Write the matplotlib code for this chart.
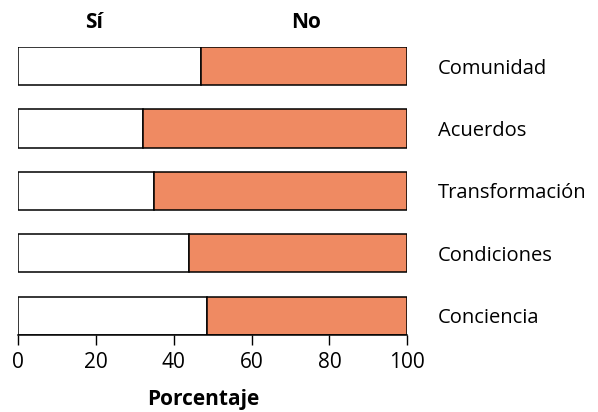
import matplotlib
matplotlib.use("Agg")
import matplotlib.pyplot as plt

plt.rcParams["font.family"] = ["Open Sans", "DejaVu Sans"]

categorias = ["Conciencia", "Condiciones", "Transformación", "Acuerdos", "Comunidad"]
si = [48.5, 44, 35, 32, 47]
no = [100 - v for v in si]
series = ["Sí", "No"]
series_x = [19.5, 74]
color_no = "#ef8a62"

fig = plt.figure(figsize=(5.98, 4.12), dpi=100)
ax = fig.add_axes([0.030, 0.187, 0.651, 0.699])

pos = list(range(len(categorias)))
h = 0.61
ax.barh(pos, si, height=h, color="white", edgecolor="black", linewidth=1.1)
ax.barh(pos, no, left=si, height=h, color=color_no, edgecolor="black", linewidth=1.1)

ax.set_xlim(0, 100)
ax.set_ylim(-h / 2, len(categorias) - 1 + h / 2)
ax.set_xticks([0, 20, 40, 60, 80, 100])
ax.tick_params(axis="x", length=7, width=1, labelsize=15, pad=5)

ax.yaxis.tick_right()
ax.set_yticks(pos)
ax.set_yticklabels(categorias)
ax.tick_params(axis="y", length=0, labelsize=14.5, pad=22)

for s in ["left", "top", "right"]:
    ax.spines[s].set_visible(False)
ax.spines["bottom"].set_linewidth(1.1)

ax.set_xlabel("Porcentaje", fontsize=15, fontweight="bold")
ax.xaxis.label.set_verticalalignment("baseline")
ax.xaxis.set_label_coords(0.475, -0.243)

for name, x in zip(series, series_x):
    ax.text(x, 1.065, name, transform=ax.get_xaxis_transform(),
            ha="center", va="baseline", fontsize=15, fontweight="bold")

fig.savefig("out.png", dpi=100)
